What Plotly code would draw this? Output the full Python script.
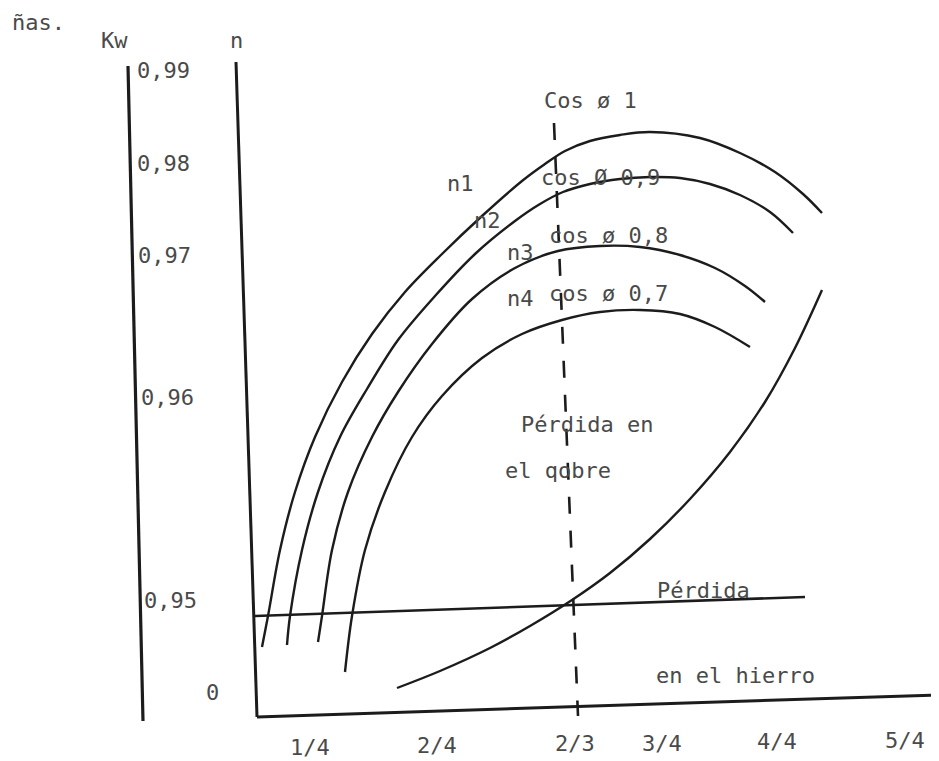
import plotly.graph_objects as go

# ---- Drawing units (x to the right, y downward) ----
# Efficiency curves for the four power factors
n1_x = [262, 268, 280, 295, 315, 342, 372, 405, 442, 482, 522, 545, 565, 590, 620, 650, 700, 740, 775, 803, 822]
n1_y = [647, 616, 550, 492, 437, 382, 334, 292, 254, 216, 181, 164, 151, 141, 135, 132, 138, 153, 172, 194, 213]

n2_x = [287, 290, 302, 318, 340, 367, 398, 435, 475, 515, 540, 563, 590, 620, 650, 680, 710, 740, 770, 793]
n2_y = [645, 616, 550, 492, 437, 389, 340, 296, 254, 221, 204, 192, 184, 179, 177, 178, 184, 195, 212, 233]

n3_x = [318, 322, 332, 348, 372, 398, 432, 472, 515, 558, 600, 640, 680, 715, 745, 765]
n3_y = [642, 616, 550, 492, 437, 392, 344, 299, 268, 251, 246, 247, 255, 268, 286, 302]

n4_x = [345, 352, 365, 385, 412, 442, 482, 522, 562, 600, 640, 680, 715, 750]
n4_y = [672, 616, 550, 492, 437, 396, 358, 334, 320, 312, 310, 314, 327, 347]

# Copper-loss curve
cu_x = [397, 440, 490, 530, 572, 610, 650, 690, 730, 765, 795, 822]
cu_y = [688, 671, 648, 626, 600, 573, 539, 499, 452, 402, 348, 290]

# Iron-loss line
fe_x = [255, 805]
fe_y = [616, 597]

# Axes of the drawing
kw_axis_x = [128, 143]
kw_axis_y = [66, 721]
n_axis_x = [236, 257]
n_axis_y = [62, 717]
load_axis_x = [257, 935]
load_axis_y = [717, 695]

# Dashed marker at 2/3 load
mark_x = [554, 578]
mark_y = [123, 716]

# Scale labels on the Kw axis
kw_labels = ["0,99", "0,98", "0,97", "0,96", "0,95", "0"]
kw_label_x = [163, 163, 164, 167, 170, 212]
kw_label_y = [70, 163, 255, 397, 600, 692]

# Load labels
load_labels = ["1/4", "2/4", "2/3", "3/4", "4/4", "5/4"]
load_label_x = [310, 437, 575, 662, 777, 905]
load_label_y = [747, 745, 743, 743, 741, 740]

# Other texts
note_texts = ["ñas.", "Kw", "n", "Cos ø 1", "n1", "n2", "cos Ø 0,9", "n3", "cos ø 0,8",
              "n4", "cos ø 0,7", "Pérdida en", "el qobre", "Pérdida", "en el hierro"]
note_x = [38, 114, 236, 590, 460, 487, 600, 520, 608, 520, 608, 587, 558, 703, 735]
note_y = [22, 40, 40, 100, 183, 220, 177, 252, 235, 298, 293, 424, 470, 590, 675]

INK = "#1c1c1c"
TEXT = "#4a4a4a"
FONT = "DejaVu Sans Mono"

# the page body has an 8px margin; shift the drawing window to compensate
PAD = 8

fig = go.Figure()

def line(xs, ys, width=2.4, dash=None, smooth=1.0):
    fig.add_trace(go.Scatter(x=xs, y=ys, mode="lines",
                             line=dict(color=INK, width=width, shape="spline",
                                       smoothing=smooth, dash=dash),
                             hoverinfo="skip", showlegend=False))

for xs, ys in [(n1_x, n1_y), (n2_x, n2_y), (n3_x, n3_y), (n4_x, n4_y), (cu_x, cu_y)]:
    line(xs, ys, 2.4)

line(fe_x, fe_y, 2.6)
line(kw_axis_x, kw_axis_y, 3.2)
line(n_axis_x, n_axis_y, 3.0)
line(load_axis_x, load_axis_y, 3.0)
line(mark_x, mark_y, 2.6, dash="17px,17px")

for labels, xs, ys in [(kw_labels, kw_label_x, kw_label_y),
                       (load_labels, load_label_x, load_label_y),
                       (note_texts, note_x, note_y)]:
    for t, x, y in zip(labels, xs, ys):
        fig.add_annotation(x=x, y=y, text=t, showarrow=False,
                           font=dict(family=FONT, size=22, color=TEXT))

fig.update_layout(
    width=939, height=761,
    margin=dict(l=0, r=0, t=0, b=0),
    paper_bgcolor="white", plot_bgcolor="white",
    xaxis=dict(range=[PAD, 939 + PAD], visible=False, fixedrange=True),
    yaxis=dict(range=[761 + PAD, PAD], visible=False, fixedrange=True),
)

fig.write_html("out.html")
